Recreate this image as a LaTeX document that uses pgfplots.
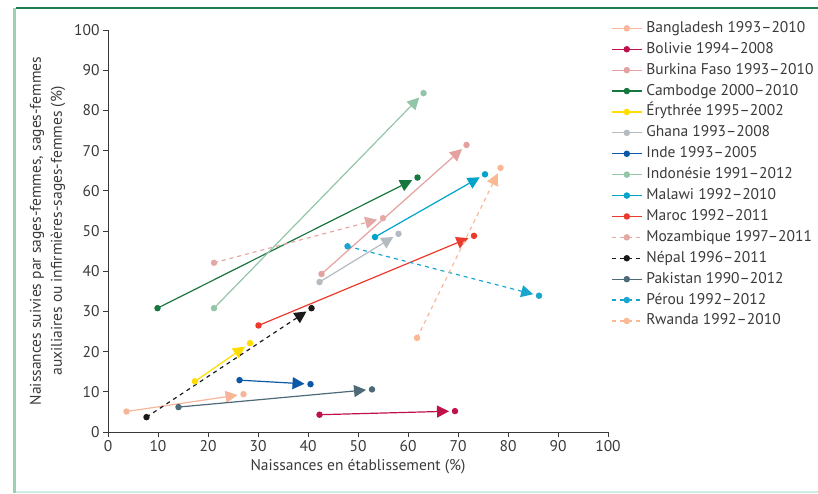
\documentclass[border=0pt]{standalone}
\usepackage{fontspec}
\setmainfont{PT Sans}
\usepackage{pgfplots}
\pgfplotsset{compat=1.18}
\usetikzlibrary{arrows.meta}
\definecolor{cBang}{HTML}{F7B59A}
\definecolor{cBol}{HTML}{C0124A}
\definecolor{cBurk}{HTML}{E3A29F}
\definecolor{cCamb}{HTML}{16773F}
\definecolor{cEry}{HTML}{FFDD00}
\definecolor{cGha}{HTML}{B4BBC1}
\definecolor{cInde}{HTML}{0B58A6}
\definecolor{cIndo}{HTML}{93C6A9}
\definecolor{cMal}{HTML}{00A3CA}
\definecolor{cMar}{HTML}{EA3A2B}
\definecolor{cMoz}{HTML}{E4A8A5}
\definecolor{cNep}{HTML}{1A1A1A}
\definecolor{cPak}{HTML}{4D6A78}
\definecolor{cPer}{HTML}{1AA5CE}
\definecolor{cRwa}{HTML}{FBB895}
\definecolor{axisgray}{HTML}{3A3A3A}
\definecolor{textgray}{HTML}{3A3A3A}
\definecolor{frametop}{HTML}{1E7E4E}
\definecolor{frameleft}{HTML}{9CCFB4}
\definecolor{framebot}{HTML}{D3ECE3}
\begin{document}
\begin{tikzpicture}[x=1pt,y=1pt]
\useasboundingbox (-108,-61) rectangle (710,432);
\fill[frameleft] (-95,-61) rectangle (-92,424);
\draw[frametop, line width=1.5pt] (-92,424) -- (710,424);
\draw[framebot, line width=1.5pt] (-92,-60) -- (710,-60);
\begin{axis}[
  at={(0pt,0pt)}, anchor=origin,
  scale only axis, width=500pt, height=402pt,
  xmin=0, xmax=100, ymin=0, ymax=100,
  axis x line*=bottom, axis y line*=left,
  xtick={0,10,...,100}, ytick={0,10,...,100},
  /pgf/number format/assume math mode=true,
  tick align=outside, major tick length=5pt,
  tick style={color=axisgray, line width=0.8pt},
  axis line style={color=axisgray, line width=0.8pt},
  ticklabel style={font=\fontsize{15.5}{18}\selectfont, color=textgray},
  xlabel={Naissances en établissement (\%)},
  ylabel={Naissances suivies par sages-femmes, sages-femmes\\auxiliaires ou infirmières-sages-femmes (\%)},
  xlabel style={font=\fontsize{15.5}{18}\selectfont, color=textgray, at={(axis description cs:0.5,-0.087)}, anchor=center},
  ylabel style={font=\fontsize{15.5}{21}\selectfont, color=textgray, align=center, at={(axis description cs:-0.121,0.5)}, anchor=center, rotate=0},
  clip=false,
  legend cell align=left,
  legend style={at={(1.006,1.022)}, anchor=north west, draw=none, fill=none,
    font=\fontsize{15.5}{18}\selectfont, text=textgray, row sep=6.9pt, inner sep=0pt,
    nodes={inner sep=0pt, text height=11pt, text depth=3pt}},
  legend image code/.code={\draw[#1,-,shorten >=0pt, mark repeat=2, mark phase=2] plot coordinates {(0pt,0pt) (15pt,0pt) (30pt,0pt)};},
  every axis plot/.append style={line width=1.2pt, mark=*, mark size=2.6pt, mark options={solid}, -{Triangle[length=12pt,width=12pt]}, shorten >=6pt},
]
\addplot[color=cBang] coordinates {(3.7,5.1) (27.1,9.4)};
\addlegendentry{\hspace{4pt}Bangladesh 1993–2010}
\addplot[color=cBol] coordinates {(42.3,4.3) (69.4,5.2)};
\addlegendentry{\hspace{4pt}Bolivie 1994–2008}
\addplot[color=cBurk] coordinates {(42.7,39.3) (71.7,71.4)};
\addlegendentry{\hspace{4pt}Burkina Faso 1993–2010}
\addplot[color=cCamb] coordinates {(9.9,30.8) (61.9,63.3)};
\addlegendentry{\hspace{4pt}Cambodge 2000–2010}
\addplot[color=cEry] coordinates {(17.4,12.6) (28.4,22.1)};
\addlegendentry{\hspace{4pt}Érythrée 1995–2002}
\addplot[color=cGha] coordinates {(42.3,37.3) (58.1,49.3)};
\addlegendentry{\hspace{4pt}Ghana 1993–2008}
\addplot[color=cInde] coordinates {(26.3,12.9) (40.5,11.9)};
\addlegendentry{\hspace{4pt}Inde 1993–2005}
\addplot[color=cIndo] coordinates {(21.2,30.8) (63.1,84.3)};
\addlegendentry{\hspace{4pt}Indonésie 1991–2012}
\addplot[color=cMal] coordinates {(53.4,48.5) (75.4,64.1)};
\addlegendentry{\hspace{4pt}Malawi 1992–2010}
\addplot[color=cMar] coordinates {(30.1,26.5) (73.2,48.8)};
\addlegendentry{\hspace{4pt}Maroc 1992–2011}
\addplot[color=cMoz, dash pattern=on 4pt off 4pt] coordinates {(21.2,42.1) (55.0,53.2)};
\addlegendentry{\hspace{4pt}Mozambique 1997–2011}
\addplot[color=cNep, dash pattern=on 4pt off 4pt] coordinates {(7.7,3.7) (40.7,30.8)};
\addlegendentry{\hspace{4pt}Népal 1996–2011}
\addplot[color=cPak] coordinates {(14.1,6.2) (52.8,10.6)};
\addlegendentry{\hspace{4pt}Pakistan 1990–2012}
\addplot[color=cPer, dash pattern=on 4pt off 4pt] coordinates {(47.9,46.2) (86.2,33.9)};
\addlegendentry{\hspace{4pt}Pérou 1992–2012}
\addplot[color=cRwa, dash pattern=on 4pt off 4pt] coordinates {(61.8,23.4) (78.5,65.7)};
\addlegendentry{\hspace{4pt}Rwanda 1992–2010}
\end{axis}
\end{tikzpicture}
\end{document}
